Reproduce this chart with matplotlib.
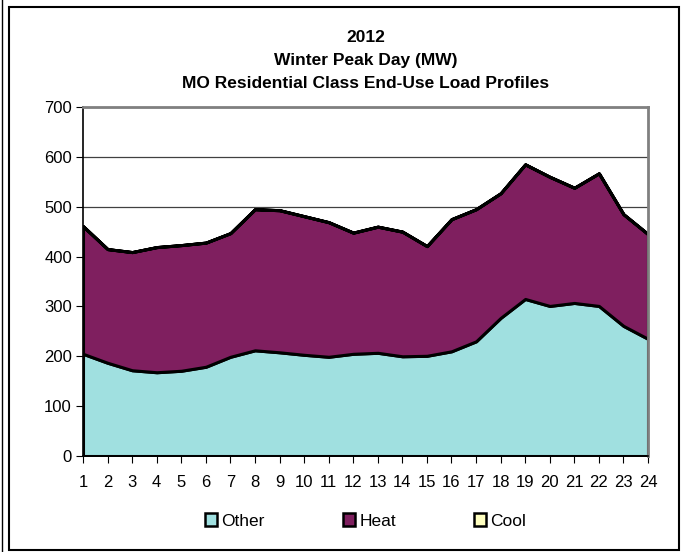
import matplotlib
matplotlib.use("Agg")
import matplotlib.pyplot as plt
from matplotlib.patches import Patch, Rectangle
from matplotlib.lines import Line2D

plt.rcParams['font.family'] = ['Liberation Sans', 'DejaVu Sans']

# hourly values (MW)
hours = list(range(1, 25))
other = [205, 187, 172, 168, 171, 179, 199, 212, 208, 203, 199, 205,
         207, 200, 201, 210, 230, 277, 315, 301, 307, 301, 261, 235]
heat = [256, 228, 237, 251, 252, 249, 248, 283, 285, 278, 270, 243,
        253, 250, 220, 265, 265, 250, 270, 259, 231, 266, 224, 210]
cool = [0] * 24
series_names = ["Other", "Heat", "Cool"]
series_colors = ["#A0E0E0", "#7F1F5F", "#FFFFC0"]
title_lines = ["2012", "Winter Peak Day (MW)", "MO Residential Class End-Use Load Profiles"]

fig = plt.figure(figsize=(6.9, 5.52), dpi=100)
ax = fig.add_axes([83/690, 1 - 456/552, (648-83)/690, (456-107)/552])

ax.stackplot(hours, other, heat, cool, colors=series_colors,
             edgecolor="black", linewidth=2.2)

ax.set_xlim(1, 24)
ax.set_ylim(0, 700)
ax.set_xticks(hours)
ax.set_xticklabels([str(h) for h in hours], fontsize=12)
ax.set_yticks(range(0, 701, 100))
ax.tick_params(axis='y', labelsize=12, direction='out', length=5, pad=3)
ax.tick_params(axis='x', direction='out', length=5, pad=9)
ax.grid(axis='y', color='#404040', linewidth=0.9)
ax.set_axisbelow(True)

for s in ['top', 'right']:
    ax.spines[s].set_color('#808080')
    ax.spines[s].set_linewidth(2)
for s in ['left', 'bottom']:
    ax.spines[s].set_color('black')
    ax.spines[s].set_linewidth(1.2)

# title, three lines
cx = 0.5 * (83 + 648) / 690
for y, line in zip([37, 61, 84], title_lines):
    fig.text(cx, 1 - y / 552, line, ha='center', va='center',
             fontsize=12.5, fontweight='bold')

handles = [Patch(facecolor=c, edgecolor='black', linewidth=1.8) for c in series_colors]
fig.legend(handles, series_names, loc='center', bbox_to_anchor=(cx, 1 - 521 / 552),
           ncol=3, frameon=False, fontsize=12.5, handlelength=0.7, handleheight=0.7,
           handletextpad=0.25, columnspacing=4.5)

# outer frame
fig.patches.append(Rectangle((9/690, 1 - 550/552), (679-9)/690, (550-7)/552,
                             transform=fig.transFigure, fill=False,
                             edgecolor='black', linewidth=1.5))
fig.lines.append(Line2D([2/690, 2/690], [0, 1], transform=fig.transFigure,
                        color='black', linewidth=1))

fig.savefig("out.png", dpi=100)
